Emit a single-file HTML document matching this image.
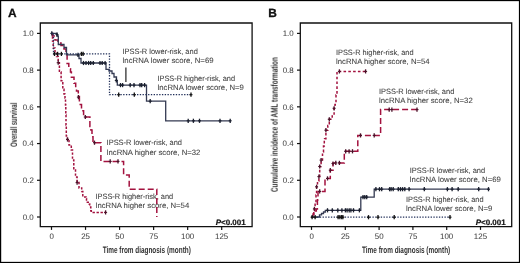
<!DOCTYPE html>
<html><head><meta charset="utf-8"><style>
html,body{margin:0;padding:0;background:#fff;}
svg{display:block;font-family:"Liberation Sans",sans-serif;}
text{will-change:transform;text-rendering:geometricPrecision;}
</style></head><body>
<svg width="520" height="263" viewBox="0 0 520 263">
<rect width="520" height="263" fill="#fff"/>
<rect x="0.6" y="0.55" width="518.9" height="261.9" fill="none" stroke="#000" stroke-width="1.2"/>
<path d="M40.3,23.0 H252.1 V226.7 H40.3 Z" fill="none" stroke="#111" stroke-width="1.3"/>
<path d="M37.0,33.40 H40.3" stroke="#111" stroke-width="1.2"/>
<text x="22.69" y="36.10" font-size="8.0" font-weight="normal" fill="#444" textLength="11.01" lengthAdjust="spacingAndGlyphs" stroke="#444" stroke-width="0.05">1.0</text>
<path d="M37.0,70.12 H40.3" stroke="#111" stroke-width="1.2"/>
<text x="22.73" y="72.82" font-size="8.0" font-weight="normal" fill="#444" textLength="11.01" lengthAdjust="spacingAndGlyphs" stroke="#444" stroke-width="0.05">0.8</text>
<path d="M37.0,106.84 H40.3" stroke="#111" stroke-width="1.2"/>
<text x="22.73" y="109.54" font-size="8.0" font-weight="normal" fill="#444" textLength="11.01" lengthAdjust="spacingAndGlyphs" stroke="#444" stroke-width="0.05">0.6</text>
<path d="M37.0,143.56 H40.3" stroke="#111" stroke-width="1.2"/>
<text x="22.61" y="146.26" font-size="8.0" font-weight="normal" fill="#444" textLength="11.01" lengthAdjust="spacingAndGlyphs" stroke="#444" stroke-width="0.05">0.4</text>
<path d="M37.0,180.28 H40.3" stroke="#111" stroke-width="1.2"/>
<text x="22.79" y="182.98" font-size="8.0" font-weight="normal" fill="#444" textLength="11.01" lengthAdjust="spacingAndGlyphs" stroke="#444" stroke-width="0.05">0.2</text>
<path d="M37.0,217.00 H40.3" stroke="#111" stroke-width="1.2"/>
<text x="22.69" y="219.70" font-size="8.0" font-weight="normal" fill="#444" textLength="11.01" lengthAdjust="spacingAndGlyphs" stroke="#444" stroke-width="0.05">0.0</text>
<path d="M51.50,226.7 V229.89999999999998" stroke="#111" stroke-width="1.2"/>
<text x="49.39" y="239.20" font-size="8.0" font-weight="normal" fill="#444" textLength="4.40" lengthAdjust="spacingAndGlyphs" stroke="#444" stroke-width="0.05">0</text>
<path d="M85.54,226.7 V229.89999999999998" stroke="#111" stroke-width="1.2"/>
<text x="81.20" y="239.20" font-size="8.0" font-weight="normal" fill="#444" textLength="8.81" lengthAdjust="spacingAndGlyphs" stroke="#444" stroke-width="0.05">25</text>
<path d="M119.58,226.7 V229.89999999999998" stroke="#111" stroke-width="1.2"/>
<text x="115.27" y="239.20" font-size="8.0" font-weight="normal" fill="#444" textLength="8.81" lengthAdjust="spacingAndGlyphs" stroke="#444" stroke-width="0.05">50</text>
<path d="M153.62,226.7 V229.89999999999998" stroke="#111" stroke-width="1.2"/>
<text x="149.28" y="239.20" font-size="8.0" font-weight="normal" fill="#444" textLength="8.81" lengthAdjust="spacingAndGlyphs" stroke="#444" stroke-width="0.05">75</text>
<path d="M187.66,226.7 V229.89999999999998" stroke="#111" stroke-width="1.2"/>
<text x="181.01" y="239.20" font-size="8.0" font-weight="normal" fill="#444" textLength="13.21" lengthAdjust="spacingAndGlyphs" stroke="#444" stroke-width="0.05">100</text>
<path d="M221.70,226.7 V229.89999999999998" stroke="#111" stroke-width="1.2"/>
<text x="215.06" y="239.20" font-size="8.0" font-weight="normal" fill="#444" textLength="13.21" lengthAdjust="spacingAndGlyphs" stroke="#444" stroke-width="0.05">125</text>
<text x="102.64" y="252.70" font-size="9.3" font-weight="bold" fill="#333" textLength="88.19" lengthAdjust="spacingAndGlyphs" stroke="#333" stroke-width="0.0">Time from diagnosis (month)</text>
<text transform="translate(16.90,146.84) rotate(-90)" x="0" y="0" font-size="9.3" font-weight="bold" fill="#333" textLength="44.25" lengthAdjust="spacingAndGlyphs">Overall survival</text>
<text x="215.70" y="224.5" font-size="7.9" font-weight="bold" fill="#111" stroke="#111" stroke-width="0.2" textLength="30" lengthAdjust="spacingAndGlyphs"><tspan font-style="italic">P</tspan>&lt;0.001</text>
<path d="M300.3,23.0 H511.7 V226.7 H300.3 Z" fill="none" stroke="#111" stroke-width="1.3"/>
<path d="M297.0,33.40 H300.3" stroke="#111" stroke-width="1.2"/>
<text x="282.69" y="36.10" font-size="8.0" font-weight="normal" fill="#444" textLength="11.01" lengthAdjust="spacingAndGlyphs" stroke="#444" stroke-width="0.05">1.0</text>
<path d="M297.0,70.12 H300.3" stroke="#111" stroke-width="1.2"/>
<text x="282.73" y="72.82" font-size="8.0" font-weight="normal" fill="#444" textLength="11.01" lengthAdjust="spacingAndGlyphs" stroke="#444" stroke-width="0.05">0.8</text>
<path d="M297.0,106.84 H300.3" stroke="#111" stroke-width="1.2"/>
<text x="282.73" y="109.54" font-size="8.0" font-weight="normal" fill="#444" textLength="11.01" lengthAdjust="spacingAndGlyphs" stroke="#444" stroke-width="0.05">0.6</text>
<path d="M297.0,143.56 H300.3" stroke="#111" stroke-width="1.2"/>
<text x="282.61" y="146.26" font-size="8.0" font-weight="normal" fill="#444" textLength="11.01" lengthAdjust="spacingAndGlyphs" stroke="#444" stroke-width="0.05">0.4</text>
<path d="M297.0,180.28 H300.3" stroke="#111" stroke-width="1.2"/>
<text x="282.79" y="182.98" font-size="8.0" font-weight="normal" fill="#444" textLength="11.01" lengthAdjust="spacingAndGlyphs" stroke="#444" stroke-width="0.05">0.2</text>
<path d="M297.0,217.00 H300.3" stroke="#111" stroke-width="1.2"/>
<text x="282.69" y="219.70" font-size="8.0" font-weight="normal" fill="#444" textLength="11.01" lengthAdjust="spacingAndGlyphs" stroke="#444" stroke-width="0.05">0.0</text>
<path d="M311.50,226.7 V229.89999999999998" stroke="#111" stroke-width="1.2"/>
<text x="309.39" y="239.20" font-size="8.0" font-weight="normal" fill="#444" textLength="4.40" lengthAdjust="spacingAndGlyphs" stroke="#444" stroke-width="0.05">0</text>
<path d="M345.30,226.7 V229.89999999999998" stroke="#111" stroke-width="1.2"/>
<text x="340.96" y="239.20" font-size="8.0" font-weight="normal" fill="#444" textLength="8.81" lengthAdjust="spacingAndGlyphs" stroke="#444" stroke-width="0.05">25</text>
<path d="M379.10,226.7 V229.89999999999998" stroke="#111" stroke-width="1.2"/>
<text x="374.79" y="239.20" font-size="8.0" font-weight="normal" fill="#444" textLength="8.81" lengthAdjust="spacingAndGlyphs" stroke="#444" stroke-width="0.05">50</text>
<path d="M412.90,226.7 V229.89999999999998" stroke="#111" stroke-width="1.2"/>
<text x="408.56" y="239.20" font-size="8.0" font-weight="normal" fill="#444" textLength="8.81" lengthAdjust="spacingAndGlyphs" stroke="#444" stroke-width="0.05">75</text>
<path d="M446.70,226.7 V229.89999999999998" stroke="#111" stroke-width="1.2"/>
<text x="440.05" y="239.20" font-size="8.0" font-weight="normal" fill="#444" textLength="13.21" lengthAdjust="spacingAndGlyphs" stroke="#444" stroke-width="0.05">100</text>
<path d="M480.50,226.7 V229.89999999999998" stroke="#111" stroke-width="1.2"/>
<text x="473.86" y="239.20" font-size="8.0" font-weight="normal" fill="#444" textLength="13.21" lengthAdjust="spacingAndGlyphs" stroke="#444" stroke-width="0.05">125</text>
<text x="362.04" y="252.70" font-size="9.3" font-weight="bold" fill="#333" textLength="88.19" lengthAdjust="spacingAndGlyphs" stroke="#333" stroke-width="0.0">Time from diagnosis (month)</text>
<text transform="translate(277.60,192.05) rotate(-90)" x="0" y="0" font-size="9.3" font-weight="bold" fill="#333" textLength="134.84" lengthAdjust="spacingAndGlyphs">Cumulative incidence of AML transformation</text>
<text x="475.70" y="224.5" font-size="7.9" font-weight="bold" fill="#111" stroke="#111" stroke-width="0.2" textLength="30" lengthAdjust="spacingAndGlyphs"><tspan font-style="italic">P</tspan>&lt;0.001</text>
<text x="8.1" y="16.7" font-size="11.9" font-weight="bold" fill="#111" stroke="#111" stroke-width="0.3">A</text>
<text x="268.3" y="17.0" font-size="11.9" font-weight="bold" fill="#111" stroke="#111" stroke-width="0.3">B</text>
<text x="122.41" y="54.20" font-size="7.7" font-weight="normal" fill="#444" textLength="75.37" lengthAdjust="spacingAndGlyphs" stroke="#444" stroke-width="0.08">IPSS-R lower-risk, and</text>
<text x="122.58" y="63.10" font-size="7.7" font-weight="normal" fill="#444" textLength="90.99" lengthAdjust="spacingAndGlyphs" stroke="#444" stroke-width="0.08">lncRNA lower score, N=69</text>
<text x="157.42" y="80.70" font-size="7.7" font-weight="normal" fill="#444" textLength="77.66" lengthAdjust="spacingAndGlyphs" stroke="#444" stroke-width="0.08">IPSS-R higher-risk, and</text>
<text x="157.58" y="89.80" font-size="7.7" font-weight="normal" fill="#444" textLength="86.28" lengthAdjust="spacingAndGlyphs" stroke="#444" stroke-width="0.08">lncRNA lower score, N=9</text>
<text x="106.61" y="145.10" font-size="7.7" font-weight="normal" fill="#444" textLength="75.37" lengthAdjust="spacingAndGlyphs" stroke="#444" stroke-width="0.08">IPSS-R lower-risk, and</text>
<text x="106.78" y="154.70" font-size="7.7" font-weight="normal" fill="#444" textLength="93.63" lengthAdjust="spacingAndGlyphs" stroke="#444" stroke-width="0.08">lncRNA higher score, N=32</text>
<text x="95.52" y="199.10" font-size="7.7" font-weight="normal" fill="#444" textLength="77.66" lengthAdjust="spacingAndGlyphs" stroke="#444" stroke-width="0.08">IPSS-R higher-risk, and</text>
<text x="95.68" y="208.00" font-size="7.7" font-weight="normal" fill="#444" textLength="93.55" lengthAdjust="spacingAndGlyphs" stroke="#444" stroke-width="0.08">lncRNA higher score, N=54</text>
<text x="335.92" y="54.70" font-size="7.7" font-weight="normal" fill="#444" textLength="77.66" lengthAdjust="spacingAndGlyphs" stroke="#444" stroke-width="0.08">IPSS-R higher-risk, and</text>
<text x="336.08" y="63.50" font-size="7.7" font-weight="normal" fill="#444" textLength="93.55" lengthAdjust="spacingAndGlyphs" stroke="#444" stroke-width="0.08">lncRNA higher score, N=54</text>
<text x="378.91" y="93.70" font-size="7.7" font-weight="normal" fill="#444" textLength="75.37" lengthAdjust="spacingAndGlyphs" stroke="#444" stroke-width="0.08">IPSS-R lower-risk, and</text>
<text x="379.08" y="102.80" font-size="7.7" font-weight="normal" fill="#444" textLength="93.63" lengthAdjust="spacingAndGlyphs" stroke="#444" stroke-width="0.08">lncRNA higher score, N=32</text>
<text x="409.71" y="173.10" font-size="7.7" font-weight="normal" fill="#444" textLength="75.37" lengthAdjust="spacingAndGlyphs" stroke="#444" stroke-width="0.08">IPSS-R lower-risk, and</text>
<text x="409.88" y="182.30" font-size="7.7" font-weight="normal" fill="#444" textLength="90.99" lengthAdjust="spacingAndGlyphs" stroke="#444" stroke-width="0.08">lncRNA lower score, N=69</text>
<text x="405.92" y="201.70" font-size="7.7" font-weight="normal" fill="#444" textLength="77.66" lengthAdjust="spacingAndGlyphs" stroke="#444" stroke-width="0.08">IPSS-R higher-risk, and</text>
<text x="406.08" y="210.80" font-size="7.7" font-weight="normal" fill="#444" textLength="86.28" lengthAdjust="spacingAndGlyphs" stroke="#444" stroke-width="0.08">lncRNA lower score, N=9</text>
<path d="M125.9,67.6 V82" stroke="#222" stroke-width="1.2"/>
<path d="M51.50,33.40 H52.50 V41.00 H53.20 V48.00 H55.00 V52.00 H56.50 V56.50 H58.20 V62.70 H59.40 V72.00 H61.10 V80.70 H62.80 V89.20 H64.00 V94.00 H65.00 V98.00 H65.50 V105.00 H65.80 V115.00 H66.00 V125.00 H66.30 V136.00 H67.40 V139.00 H69.00 V145.00 H71.30 V150.00 H72.50 V160.00 H73.80 V170.00 H75.50 V177.00 H77.10 V182.60 H79.00 V188.00 H81.70 V191.60 H82.80 V196.90 H86.00 V198.50 H86.50 V202.30 H89.20 V204.00 H89.70 V207.00 H90.80 V210.80 H91.30 V212.40 H105.50 V212.40" fill="none" stroke="#a3123f" stroke-width="1.5" stroke-dasharray="2.4,1.6" stroke-linejoin="miter"/>
<path d="M58.20,60.60 V64.80" stroke="#4a1028" stroke-width="1.3"/><path d="M56.70,62.70 H59.70" stroke="#4a1028" stroke-width="1.1"/>
<path d="M67.50,137.40 V141.60" stroke="#4a1028" stroke-width="1.3"/><path d="M66.00,139.50 H69.00" stroke="#4a1028" stroke-width="1.1"/>
<path d="M77.10,180.50 V184.70" stroke="#4a1028" stroke-width="1.3"/><path d="M75.60,182.60 H78.60" stroke="#4a1028" stroke-width="1.1"/>
<path d="M105.60,210.30 V214.50" stroke="#4a1028" stroke-width="1.3"/><path d="M104.10,212.40 H107.10" stroke="#4a1028" stroke-width="1.1"/>
<path d="M51.50,33.40 H52.50 V36.00 H55.00 V40.00 H58.00 V43.00 H61.00 V45.50 H64.00 V49.00 H66.00 V53.00 H67.10 V63.60 H68.80 V68.70 H70.50 V72.10 H71.40 V77.30 H74.00 V83.30 H75.70 V87.50 H76.50 V91.00 H78.30 V96.50 H79.40 V104.40 H81.50 V110.70 H83.60 V117.00 H89.90 V126.40 H90.90 V130.00 H92.00 V136.80 H93.00 V142.70 H100.90 V161.40 H123.60 V175.00 H129.20 V189.20 H156.80 V217.00" fill="none" stroke="#a3123f" stroke-width="1.5" stroke-dasharray="6,3" stroke-linejoin="miter"/>
<path d="M78.40,95.00 V99.20" stroke="#4a1028" stroke-width="1.3"/><path d="M76.90,97.10 H79.90" stroke="#4a1028" stroke-width="1.1"/>
<path d="M85.30,114.90 V119.10" stroke="#4a1028" stroke-width="1.3"/><path d="M83.80,117.00 H86.80" stroke="#4a1028" stroke-width="1.1"/>
<path d="M94.50,140.60 V144.80" stroke="#4a1028" stroke-width="1.3"/><path d="M93.00,142.70 H96.00" stroke="#4a1028" stroke-width="1.1"/>
<path d="M110.20,159.30 V163.50" stroke="#4a1028" stroke-width="1.3"/><path d="M108.70,161.40 H111.70" stroke="#4a1028" stroke-width="1.1"/>
<path d="M118.00,159.30 V163.50" stroke="#4a1028" stroke-width="1.3"/><path d="M116.50,161.40 H119.50" stroke="#4a1028" stroke-width="1.1"/>
<path d="M51.50,33.40 H57.00 V36.00 H58.30 V44.50 H64.00 V47.50 H66.50 V54.90 H79.00 V58.50 H81.00 V63.00 H106.00 V69.30 H109.00 V71.00 H112.00 V73.50 H114.00 V77.00 H116.50 V80.50 H117.30 V85.10 H146.50 V101.20 H165.70 V120.80 H230.40 V120.80" fill="none" stroke="#343a52" stroke-width="1.3" stroke-linejoin="miter"/>
<path d="M51.80,31.30 V35.50" stroke="#1a1f2e" stroke-width="1.3"/><path d="M50.30,33.40 H53.30" stroke="#1a1f2e" stroke-width="1.1"/>
<path d="M57.00,32.40 V36.60" stroke="#1a1f2e" stroke-width="1.3"/><path d="M55.50,34.50 H58.50" stroke="#1a1f2e" stroke-width="1.1"/>
<path d="M78.00,52.80 V57.00" stroke="#1a1f2e" stroke-width="1.3"/><path d="M76.50,54.90 H79.50" stroke="#1a1f2e" stroke-width="1.1"/>
<path d="M83.50,60.90 V65.10" stroke="#1a1f2e" stroke-width="1.3"/><path d="M82.00,63.00 H85.00" stroke="#1a1f2e" stroke-width="1.1"/>
<path d="M86.00,60.90 V65.10" stroke="#1a1f2e" stroke-width="1.3"/><path d="M84.50,63.00 H87.50" stroke="#1a1f2e" stroke-width="1.1"/>
<path d="M88.60,60.90 V65.10" stroke="#1a1f2e" stroke-width="1.3"/><path d="M87.10,63.00 H90.10" stroke="#1a1f2e" stroke-width="1.1"/>
<path d="M90.70,60.90 V65.10" stroke="#1a1f2e" stroke-width="1.3"/><path d="M89.20,63.00 H92.20" stroke="#1a1f2e" stroke-width="1.1"/>
<path d="M93.30,60.90 V65.10" stroke="#1a1f2e" stroke-width="1.3"/><path d="M91.80,63.00 H94.80" stroke="#1a1f2e" stroke-width="1.1"/>
<path d="M100.00,60.90 V65.10" stroke="#1a1f2e" stroke-width="1.3"/><path d="M98.50,63.00 H101.50" stroke="#1a1f2e" stroke-width="1.1"/>
<path d="M102.20,60.90 V65.10" stroke="#1a1f2e" stroke-width="1.3"/><path d="M100.70,63.00 H103.70" stroke="#1a1f2e" stroke-width="1.1"/>
<path d="M105.10,60.90 V65.10" stroke="#1a1f2e" stroke-width="1.3"/><path d="M103.60,63.00 H106.60" stroke="#1a1f2e" stroke-width="1.1"/>
<path d="M116.30,78.40 V82.60" stroke="#1a1f2e" stroke-width="1.3"/><path d="M114.80,80.50 H117.80" stroke="#1a1f2e" stroke-width="1.1"/>
<path d="M120.50,83.00 V87.20" stroke="#1a1f2e" stroke-width="1.3"/><path d="M119.00,85.10 H122.00" stroke="#1a1f2e" stroke-width="1.1"/>
<path d="M122.60,83.00 V87.20" stroke="#1a1f2e" stroke-width="1.3"/><path d="M121.10,85.10 H124.10" stroke="#1a1f2e" stroke-width="1.1"/>
<path d="M130.20,83.00 V87.20" stroke="#1a1f2e" stroke-width="1.3"/><path d="M128.70,85.10 H131.70" stroke="#1a1f2e" stroke-width="1.1"/>
<path d="M134.00,83.00 V87.20" stroke="#1a1f2e" stroke-width="1.3"/><path d="M132.50,85.10 H135.50" stroke="#1a1f2e" stroke-width="1.1"/>
<path d="M140.00,83.00 V87.20" stroke="#1a1f2e" stroke-width="1.3"/><path d="M138.50,85.10 H141.50" stroke="#1a1f2e" stroke-width="1.1"/>
<path d="M141.70,83.00 V87.20" stroke="#1a1f2e" stroke-width="1.3"/><path d="M140.20,85.10 H143.20" stroke="#1a1f2e" stroke-width="1.1"/>
<path d="M144.60,83.00 V87.20" stroke="#1a1f2e" stroke-width="1.3"/><path d="M143.10,85.10 H146.10" stroke="#1a1f2e" stroke-width="1.1"/>
<path d="M150.20,99.10 V103.30" stroke="#1a1f2e" stroke-width="1.3"/><path d="M148.70,101.20 H151.70" stroke="#1a1f2e" stroke-width="1.1"/>
<path d="M188.20,118.70 V122.90" stroke="#1a1f2e" stroke-width="1.3"/><path d="M186.70,120.80 H189.70" stroke="#1a1f2e" stroke-width="1.1"/>
<path d="M193.40,118.70 V122.90" stroke="#1a1f2e" stroke-width="1.3"/><path d="M191.90,120.80 H194.90" stroke="#1a1f2e" stroke-width="1.1"/>
<path d="M199.50,118.70 V122.90" stroke="#1a1f2e" stroke-width="1.3"/><path d="M198.00,120.80 H201.00" stroke="#1a1f2e" stroke-width="1.1"/>
<path d="M220.00,118.70 V122.90" stroke="#1a1f2e" stroke-width="1.3"/><path d="M218.50,120.80 H221.50" stroke="#1a1f2e" stroke-width="1.1"/>
<path d="M230.20,118.70 V122.90" stroke="#1a1f2e" stroke-width="1.3"/><path d="M228.70,120.80 H231.70" stroke="#1a1f2e" stroke-width="1.1"/>
<path d="M51.50,33.40 H53.50 V53.90 H109.50 V94.70 H191.20 V94.70" fill="none" stroke="#22305a" stroke-width="1.3" stroke-dasharray="1.35,1.42" stroke-linejoin="miter"/>
<path d="M54.50,51.80 V56.00" stroke="#111" stroke-width="1.3"/><path d="M53.00,53.90 H56.00" stroke="#111" stroke-width="1.1"/>
<path d="M57.60,51.80 V56.00" stroke="#111" stroke-width="1.3"/><path d="M56.10,53.90 H59.10" stroke="#111" stroke-width="1.1"/>
<path d="M61.40,51.80 V56.00" stroke="#111" stroke-width="1.3"/><path d="M59.90,53.90 H62.90" stroke="#111" stroke-width="1.1"/>
<path d="M81.40,51.80 V56.00" stroke="#111" stroke-width="1.3"/><path d="M79.90,53.90 H82.90" stroke="#111" stroke-width="1.1"/>
<path d="M83.10,51.80 V56.00" stroke="#111" stroke-width="1.3"/><path d="M81.60,53.90 H84.60" stroke="#111" stroke-width="1.1"/>
<path d="M118.70,92.60 V96.80" stroke="#111" stroke-width="1.3"/><path d="M117.20,94.70 H120.20" stroke="#111" stroke-width="1.1"/>
<path d="M134.30,92.60 V96.80" stroke="#111" stroke-width="1.3"/><path d="M132.80,94.70 H135.80" stroke="#111" stroke-width="1.1"/>
<path d="M191.00,92.60 V96.80" stroke="#111" stroke-width="1.3"/><path d="M189.50,94.70 H192.50" stroke="#111" stroke-width="1.1"/>
<path d="M311.50,217.00 H312.80 V214.20 H313.80 V211.00 H314.40 V208.90 H315.10 V202.80 H316.00 V195.00 H316.60 V186.80 H317.50 V181.00 H318.90 V176.60 H319.70 V166.50 H321.10 V160.10 H322.50 V152.00 H323.50 V146.00 H324.30 V140.00 H324.60 V138.70 H325.90 V130.20 H327.80 V125.40 H329.30 V119.30 H332.20 V115.90 H334.10 V108.30 H335.00 V104.50 H336.00 V95.00 H337.00 V90.00 H337.00 V71.40 H365.80 V71.40" fill="none" stroke="#a3123f" stroke-width="1.5" stroke-dasharray="2.6,2.2" stroke-linejoin="miter"/>
<path d="M314.40,206.80 V211.00" stroke="#4a1028" stroke-width="1.3"/><path d="M312.90,208.90 H315.90" stroke="#4a1028" stroke-width="1.1"/>
<path d="M316.60,184.70 V188.90" stroke="#4a1028" stroke-width="1.3"/><path d="M315.10,186.80 H318.10" stroke="#4a1028" stroke-width="1.1"/>
<path d="M318.90,174.50 V178.70" stroke="#4a1028" stroke-width="1.3"/><path d="M317.40,176.60 H320.40" stroke="#4a1028" stroke-width="1.1"/>
<path d="M319.70,164.40 V168.60" stroke="#4a1028" stroke-width="1.3"/><path d="M318.20,166.50 H321.20" stroke="#4a1028" stroke-width="1.1"/>
<path d="M321.10,158.00 V162.20" stroke="#4a1028" stroke-width="1.3"/><path d="M319.60,160.10 H322.60" stroke="#4a1028" stroke-width="1.1"/>
<path d="M325.90,128.10 V132.30" stroke="#4a1028" stroke-width="1.3"/><path d="M324.40,130.20 H327.40" stroke="#4a1028" stroke-width="1.1"/>
<path d="M329.30,117.20 V121.40" stroke="#4a1028" stroke-width="1.3"/><path d="M327.80,119.30 H330.80" stroke="#4a1028" stroke-width="1.1"/>
<path d="M334.10,106.20 V110.40" stroke="#4a1028" stroke-width="1.3"/><path d="M332.60,108.30 H335.60" stroke="#4a1028" stroke-width="1.1"/>
<path d="M339.40,69.30 V73.50" stroke="#4a1028" stroke-width="1.3"/><path d="M337.90,71.40 H340.90" stroke="#4a1028" stroke-width="1.1"/>
<path d="M365.60,69.30 V73.50" stroke="#4a1028" stroke-width="1.3"/><path d="M364.10,71.40 H367.10" stroke="#4a1028" stroke-width="1.1"/>
<path d="M311.50,217.00 H313.00 V214.00 H314.50 V211.00 H316.30 V208.90 H317.40 V199.80 H318.00 V191.40 H325.00 V178.40 H330.30 V170.20 H333.00 V162.90 H344.30 V151.30 H357.80 V135.40 H380.60 V109.60 H417.10 V109.60" fill="none" stroke="#a3123f" stroke-width="1.5" stroke-dasharray="6,3" stroke-linejoin="miter"/>
<path d="M319.70,189.30 V193.50" stroke="#4a1028" stroke-width="1.3"/><path d="M318.20,191.40 H321.20" stroke="#4a1028" stroke-width="1.1"/>
<path d="M327.50,176.30 V180.50" stroke="#4a1028" stroke-width="1.3"/><path d="M326.00,178.40 H329.00" stroke="#4a1028" stroke-width="1.1"/>
<path d="M330.30,168.10 V172.30" stroke="#4a1028" stroke-width="1.3"/><path d="M328.80,170.20 H331.80" stroke="#4a1028" stroke-width="1.1"/>
<path d="M333.00,161.40 V165.60" stroke="#4a1028" stroke-width="1.3"/><path d="M331.50,163.50 H334.50" stroke="#4a1028" stroke-width="1.1"/>
<path d="M335.80,160.80 V165.00" stroke="#4a1028" stroke-width="1.3"/><path d="M334.30,162.90 H337.30" stroke="#4a1028" stroke-width="1.1"/>
<path d="M339.40,160.80 V165.00" stroke="#4a1028" stroke-width="1.3"/><path d="M337.90,162.90 H340.90" stroke="#4a1028" stroke-width="1.1"/>
<path d="M345.70,149.20 V153.40" stroke="#4a1028" stroke-width="1.3"/><path d="M344.20,151.30 H347.20" stroke="#4a1028" stroke-width="1.1"/>
<path d="M349.10,149.20 V153.40" stroke="#4a1028" stroke-width="1.3"/><path d="M347.60,151.30 H350.60" stroke="#4a1028" stroke-width="1.1"/>
<path d="M352.50,149.20 V153.40" stroke="#4a1028" stroke-width="1.3"/><path d="M351.00,151.30 H354.00" stroke="#4a1028" stroke-width="1.1"/>
<path d="M360.50,133.30 V137.50" stroke="#4a1028" stroke-width="1.3"/><path d="M359.00,135.40 H362.00" stroke="#4a1028" stroke-width="1.1"/>
<path d="M374.20,133.30 V137.50" stroke="#4a1028" stroke-width="1.3"/><path d="M372.70,135.40 H375.70" stroke="#4a1028" stroke-width="1.1"/>
<path d="M389.20,107.50 V111.70" stroke="#4a1028" stroke-width="1.3"/><path d="M387.70,109.60 H390.70" stroke="#4a1028" stroke-width="1.1"/>
<path d="M391.90,107.50 V111.70" stroke="#4a1028" stroke-width="1.3"/><path d="M390.40,109.60 H393.40" stroke="#4a1028" stroke-width="1.1"/>
<path d="M417.00,107.50 V111.70" stroke="#4a1028" stroke-width="1.3"/><path d="M415.50,109.60 H418.50" stroke="#4a1028" stroke-width="1.1"/>
<path d="M311.50,217.00 H319.50 V214.80 H321.50 V213.50 H323.50 V212.00 H325.30 V210.30 H360.80 V197.10 H374.20 V189.20 H489.20 V189.20" fill="none" stroke="#343a52" stroke-width="1.3" stroke-linejoin="miter"/>
<path d="M327.50,208.20 V212.40" stroke="#1a1f2e" stroke-width="1.3"/><path d="M326.00,210.30 H329.00" stroke="#1a1f2e" stroke-width="1.1"/>
<path d="M332.30,208.20 V212.40" stroke="#1a1f2e" stroke-width="1.3"/><path d="M330.80,210.30 H333.80" stroke="#1a1f2e" stroke-width="1.1"/>
<path d="M337.80,208.20 V212.40" stroke="#1a1f2e" stroke-width="1.3"/><path d="M336.30,210.30 H339.30" stroke="#1a1f2e" stroke-width="1.1"/>
<path d="M341.90,208.20 V212.40" stroke="#1a1f2e" stroke-width="1.3"/><path d="M340.40,210.30 H343.40" stroke="#1a1f2e" stroke-width="1.1"/>
<path d="M345.40,208.20 V212.40" stroke="#1a1f2e" stroke-width="1.3"/><path d="M343.90,210.30 H346.90" stroke="#1a1f2e" stroke-width="1.1"/>
<path d="M347.10,208.20 V212.40" stroke="#1a1f2e" stroke-width="1.3"/><path d="M345.60,210.30 H348.60" stroke="#1a1f2e" stroke-width="1.1"/>
<path d="M349.20,208.20 V212.40" stroke="#1a1f2e" stroke-width="1.3"/><path d="M347.70,210.30 H350.70" stroke="#1a1f2e" stroke-width="1.1"/>
<path d="M350.90,208.20 V212.40" stroke="#1a1f2e" stroke-width="1.3"/><path d="M349.40,210.30 H352.40" stroke="#1a1f2e" stroke-width="1.1"/>
<path d="M353.50,208.20 V212.40" stroke="#1a1f2e" stroke-width="1.3"/><path d="M352.00,210.30 H355.00" stroke="#1a1f2e" stroke-width="1.1"/>
<path d="M359.40,208.20 V212.40" stroke="#1a1f2e" stroke-width="1.3"/><path d="M357.90,210.30 H360.90" stroke="#1a1f2e" stroke-width="1.1"/>
<path d="M363.00,195.00 V199.20" stroke="#1a1f2e" stroke-width="1.3"/><path d="M361.50,197.10 H364.50" stroke="#1a1f2e" stroke-width="1.1"/>
<path d="M364.80,195.00 V199.20" stroke="#1a1f2e" stroke-width="1.3"/><path d="M363.30,197.10 H366.30" stroke="#1a1f2e" stroke-width="1.1"/>
<path d="M366.70,195.00 V199.20" stroke="#1a1f2e" stroke-width="1.3"/><path d="M365.20,197.10 H368.20" stroke="#1a1f2e" stroke-width="1.1"/>
<path d="M375.90,187.10 V191.30" stroke="#1a1f2e" stroke-width="1.3"/><path d="M374.40,189.20 H377.40" stroke="#1a1f2e" stroke-width="1.1"/>
<path d="M379.50,187.10 V191.30" stroke="#1a1f2e" stroke-width="1.3"/><path d="M378.00,189.20 H381.00" stroke="#1a1f2e" stroke-width="1.1"/>
<path d="M381.70,187.10 V191.30" stroke="#1a1f2e" stroke-width="1.3"/><path d="M380.20,189.20 H383.20" stroke="#1a1f2e" stroke-width="1.1"/>
<path d="M389.60,187.10 V191.30" stroke="#1a1f2e" stroke-width="1.3"/><path d="M388.10,189.20 H391.10" stroke="#1a1f2e" stroke-width="1.1"/>
<path d="M391.10,187.10 V191.30" stroke="#1a1f2e" stroke-width="1.3"/><path d="M389.60,189.20 H392.60" stroke="#1a1f2e" stroke-width="1.1"/>
<path d="M393.20,187.10 V191.30" stroke="#1a1f2e" stroke-width="1.3"/><path d="M391.70,189.20 H394.70" stroke="#1a1f2e" stroke-width="1.1"/>
<path d="M398.30,187.10 V191.30" stroke="#1a1f2e" stroke-width="1.3"/><path d="M396.80,189.20 H399.80" stroke="#1a1f2e" stroke-width="1.1"/>
<path d="M400.50,187.10 V191.30" stroke="#1a1f2e" stroke-width="1.3"/><path d="M399.00,189.20 H402.00" stroke="#1a1f2e" stroke-width="1.1"/>
<path d="M402.60,187.10 V191.30" stroke="#1a1f2e" stroke-width="1.3"/><path d="M401.10,189.20 H404.10" stroke="#1a1f2e" stroke-width="1.1"/>
<path d="M404.80,187.10 V191.30" stroke="#1a1f2e" stroke-width="1.3"/><path d="M403.30,189.20 H406.30" stroke="#1a1f2e" stroke-width="1.1"/>
<path d="M409.10,187.10 V191.30" stroke="#1a1f2e" stroke-width="1.3"/><path d="M407.60,189.20 H410.60" stroke="#1a1f2e" stroke-width="1.1"/>
<path d="M424.30,187.10 V191.30" stroke="#1a1f2e" stroke-width="1.3"/><path d="M422.80,189.20 H425.80" stroke="#1a1f2e" stroke-width="1.1"/>
<path d="M447.40,187.10 V191.30" stroke="#1a1f2e" stroke-width="1.3"/><path d="M445.90,189.20 H448.90" stroke="#1a1f2e" stroke-width="1.1"/>
<path d="M452.10,187.10 V191.30" stroke="#1a1f2e" stroke-width="1.3"/><path d="M450.60,189.20 H453.60" stroke="#1a1f2e" stroke-width="1.1"/>
<path d="M458.20,187.10 V191.30" stroke="#1a1f2e" stroke-width="1.3"/><path d="M456.70,189.20 H459.70" stroke="#1a1f2e" stroke-width="1.1"/>
<path d="M478.70,187.10 V191.30" stroke="#1a1f2e" stroke-width="1.3"/><path d="M477.20,189.20 H480.20" stroke="#1a1f2e" stroke-width="1.1"/>
<path d="M488.50,187.10 V191.30" stroke="#1a1f2e" stroke-width="1.3"/><path d="M487.00,189.20 H490.00" stroke="#1a1f2e" stroke-width="1.1"/>
<path d="M311.5,217.2 H450" fill="none" stroke="#22305a" stroke-width="1.3" stroke-dasharray="1.35,1.42" stroke-linejoin="miter"/>
<path d="M312.10,215.10 V219.30" stroke="#111" stroke-width="1.3"/><path d="M310.60,217.20 H313.60" stroke="#111" stroke-width="1.1"/>
<path d="M315.10,215.10 V219.30" stroke="#111" stroke-width="1.3"/><path d="M313.60,217.20 H316.60" stroke="#111" stroke-width="1.1"/>
<path d="M338.10,215.10 V219.30" stroke="#111" stroke-width="1.3"/><path d="M336.60,217.20 H339.60" stroke="#111" stroke-width="1.1"/>
<path d="M339.90,215.10 V219.30" stroke="#111" stroke-width="1.3"/><path d="M338.40,217.20 H341.40" stroke="#111" stroke-width="1.1"/>
<path d="M341.70,215.10 V219.30" stroke="#111" stroke-width="1.3"/><path d="M340.20,217.20 H343.20" stroke="#111" stroke-width="1.1"/>
<path d="M342.90,215.10 V219.30" stroke="#111" stroke-width="1.3"/><path d="M341.40,217.20 H344.40" stroke="#111" stroke-width="1.1"/>
<path d="M368.50,215.10 V219.30" stroke="#111" stroke-width="1.3"/><path d="M367.00,217.20 H370.00" stroke="#111" stroke-width="1.1"/>
<path d="M378.00,215.10 V219.30" stroke="#111" stroke-width="1.3"/><path d="M376.50,217.20 H379.50" stroke="#111" stroke-width="1.1"/>
<path d="M394.20,215.10 V219.30" stroke="#111" stroke-width="1.3"/><path d="M392.70,217.20 H395.70" stroke="#111" stroke-width="1.1"/>
<path d="M450.00,215.10 V219.30" stroke="#111" stroke-width="1.3"/><path d="M448.50,217.20 H451.50" stroke="#111" stroke-width="1.1"/>
</svg>
</body></html>
